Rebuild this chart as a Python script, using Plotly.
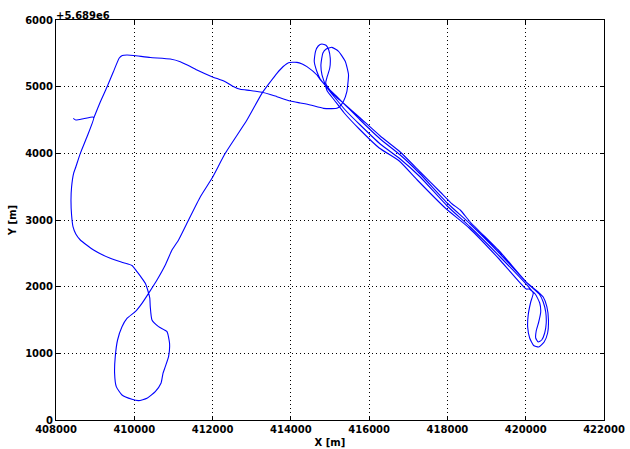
import plotly.graph_objects as go

# GPS track in UTM coordinates (metres)
easting = [
    408442, 408506, 408700, 408940, 408965,
    408800, 408621, 408506, 408450, 408398, 408383, 408398, 408434, 408506, 408621,
    408960, 409387, 409727, 409941, 410069, 410196, 410281, 410357, 410396, 410408,
    410452, 410620, 410835, 410901, 410876, 410792, 410733, 410682, 410536, 410324,
    410110, 409941, 409686, 409540, 409497, 409514, 409573, 409686, 409813, 410025,
    410196, 410365, 410580, 410792, 410963, 411131, 411387, 411685, 411984, 412324,
    412878, 413261, 413473, 413644, 413805, 413941, 414155, 414290, 414411, 414666,
    414750, 414878, 415006, 415185, 415338,
    415772, 416283, 416794, 417305, 417816, 418122, 418327, 418582, 419348, 420038, 420319,
    420447, 420540, 420581, 420560, 420471, 420330, 420203, 420101, 420050, 420064,
    420128, 420192, 420090,
    419348, 418582, 417994, 417305, 416794, 416283, 415772, 415389, 415133, 414929,
    414750, 414660, 414597, 414630, 414699, 414794, 414904, 414968, 415006, 414994,
    414930, 414891, 414980, 415159, 415415,
    415772, 416283, 416794, 417305, 417994, 418582, 419348, 420064, 420345,
    420447, 420511, 420524, 420485, 420409, 420319, 420255, 420268, 420332, 420383,
    420358, 420243, 420090,
    420012, 419320, 418555, 417944, 417230, 416770, 416258, 415747, 415364, 415108, 414929,
    414878, 414794, 414768, 414819, 414904, 415049, 415218, 415389, 415473, 415453,
    415432, 415345, 415261, 415177, 414835, 414495, 414239, 413984, 413644, 413473,
    413261, 412962, 412707, 412503, 412324, 411984, 411601, 411379, 411175, 410919,
    410408, 409982, 409813, 409693, 409617, 409463, 409303, 409131, 408965,
]
northing = [
    5693525, 5693500, 5693518, 5693545, 5693530,
    5693260, 5693000, 5692795, 5692700, 5692495, 5692300, 5692075, 5691900, 5691790, 5691700,
    5691550, 5691425, 5691360, 5691318, 5691225, 5691125, 5691050, 5690920, 5690830, 5690700,
    5690500, 5690400, 5690325, 5690150, 5689950, 5689800, 5689700, 5689550, 5689425, 5689325,
    5689290, 5689310, 5689375, 5689500, 5689700, 5689950, 5690200, 5690400, 5690525, 5690625,
    5690750, 5690900, 5691100, 5691325, 5691550, 5691700, 5692000, 5692345, 5692625, 5693000,
    5693500, 5693900, 5694070, 5694200, 5694302, 5694360, 5694365, 5694340, 5694300, 5694175,
    5694105, 5694025, 5693935, 5693830, 5693755,
    5693530, 5693260, 5693020, 5692720, 5692420, 5692240, 5692150, 5691970, 5691520, 5691055, 5690920,
    5690845, 5690700, 5690500, 5690305, 5690170, 5690095, 5690118, 5690230, 5690395, 5690575,
    5690770, 5690905, 5690985,
    5691445, 5691895, 5692210, 5692645, 5692915, 5693140, 5693425, 5693650, 5693830, 5693980,
    5694115, 5694235, 5694380, 5694530, 5694610, 5694640, 5694618, 5694550, 5694430, 5694280,
    5694153, 5694055, 5693965, 5693860, 5693710,
    5693500, 5693215, 5692975, 5692690, 5692255, 5691940, 5691490, 5691040, 5690890,
    5690770, 5690620, 5690455, 5690305, 5690200, 5690170, 5690230, 5690335, 5690470, 5690620,
    5690755, 5690890, 5690965,
    5690965, 5691415, 5691880, 5692180, 5692600, 5692885, 5693080, 5693365, 5693605, 5693800, 5693935,
    5694025, 5694180, 5694330, 5694505, 5694565, 5694590, 5694530, 5694380, 5694180, 5694025,
    5693930, 5693780, 5693710, 5693675, 5693675, 5693725, 5693755, 5693785, 5693850, 5693883,
    5693915, 5693943, 5693960, 5694010, 5694075, 5694150, 5694250, 5694318, 5694375, 5694415,
    5694438, 5694468, 5694475, 5694468, 5694430, 5694220, 5693995, 5693770, 5693530,
]

x_ticks = list(range(408000, 422001, 2000))
northing_offset = 5689000
y_ticks = [northing_offset + k for k in range(0, 6001, 1000)]
y_tick_text = [str(k) for k in range(0, 6001, 1000)]

label_font = dict(family="DejaVu Sans", size=10, color="black", weight="bold")

fig = go.Figure()
fig.add_trace(go.Scatter(
    x=easting, y=northing, mode="lines",
    line=dict(color="#0000ff", width=1.1, shape="spline", smoothing=0.5),
    hoverinfo="skip", showlegend=False,
))

axis_common = dict(
    showgrid=True, gridcolor="black", gridwidth=1, griddash="1px,3px",
    showline=True, linecolor="black", linewidth=1, mirror="ticks",
    ticks="inside", ticklen=4, tickcolor="black", tickwidth=1,
    zeroline=False, tickfont=label_font, automargin=False,
)

fig.update_xaxes(
    range=[408000, 422000], tickmode="array", tickvals=x_ticks,
    ticktext=[str(v) for v in x_ticks],
    title=dict(text="X [m]", font=label_font, standoff=4),
    **axis_common,
)
fig.update_yaxes(
    range=[5689000, 5695000], tickmode="array", tickvals=y_ticks,
    ticktext=y_tick_text,
    title=dict(text="Y [m]", font=label_font, standoff=6),
    **axis_common,
)

fig.add_annotation(
    text="+5.689e6", xref="paper", yref="paper", x=0, y=1,
    xanchor="left", yanchor="bottom", showarrow=False,
    font=label_font, xshift=-2, yshift=-3,
)

fig.update_layout(
    width=630, height=449,
    margin=dict(l=56, r=26, t=20, b=29),
    paper_bgcolor="white", plot_bgcolor="white",
    font=dict(family="DejaVu Sans", size=10, color="black"),
)

fig.write_html("out.html")
